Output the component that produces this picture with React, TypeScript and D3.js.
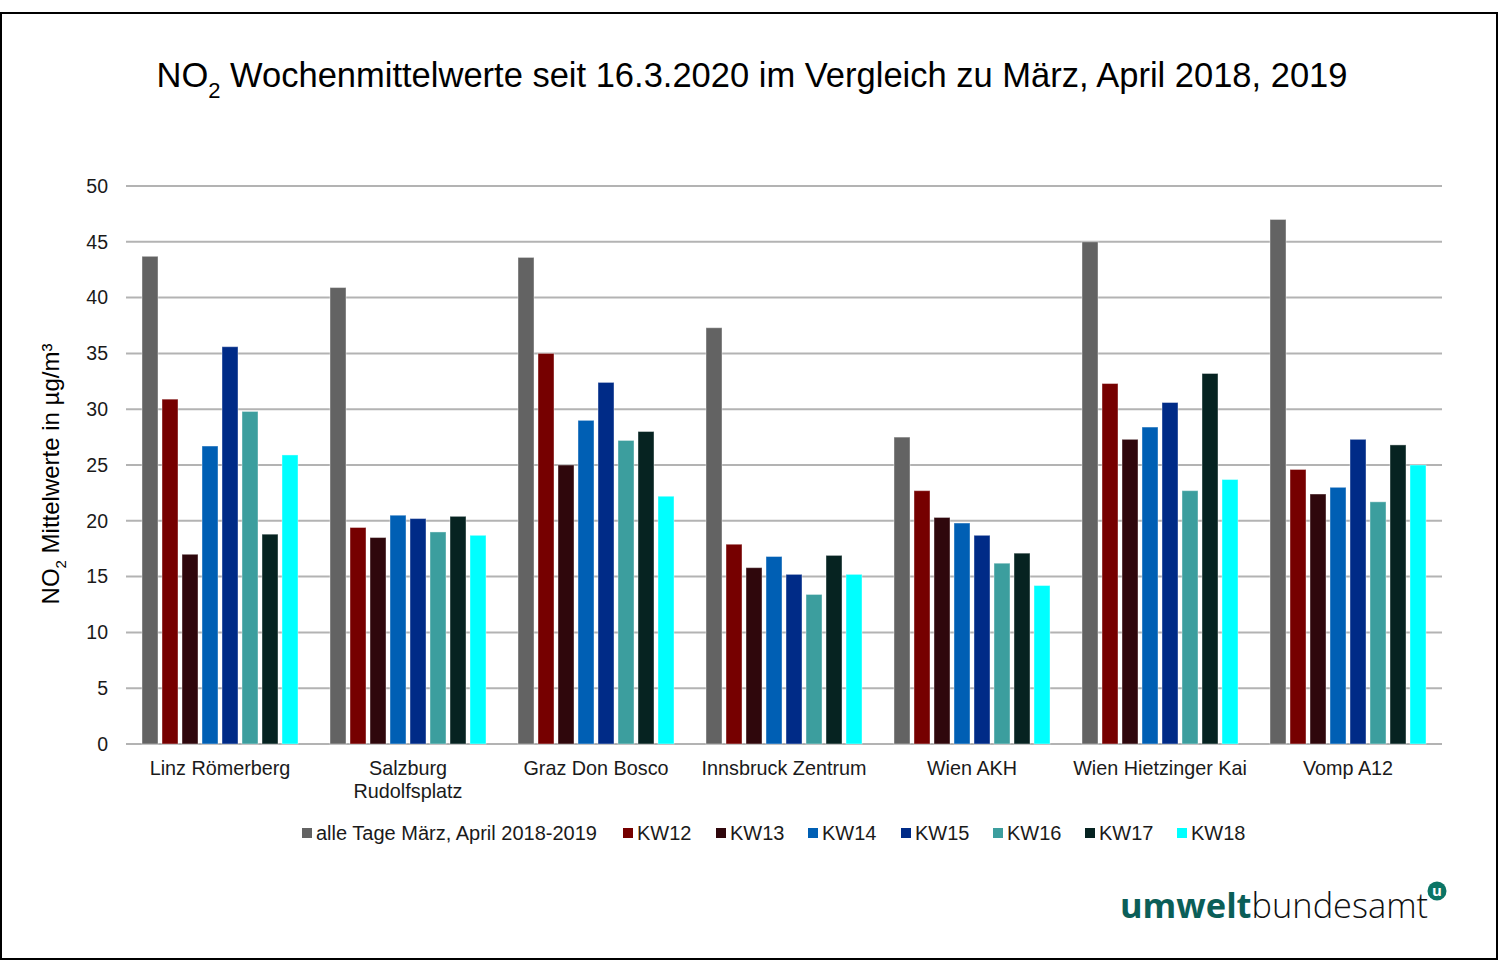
import React, { useEffect, useRef } from 'react';
import * as d3 from 'd3';

const stations = ['Linz Römerberg', 'Salzburg Rudolfsplatz', 'Graz Don Bosco', 'Innsbruck Zentrum', 'Wien AKH', 'Wien Hietzinger Kai', 'Vomp A12'];
const stationLines = [['Linz Römerberg'], ['Salzburg', 'Rudolfsplatz'], ['Graz Don Bosco'], ['Innsbruck Zentrum'], ['Wien AKH'], ['Wien Hietzinger Kai'], ['Vomp A12']];
const seriesNames = ['alle Tage März, April 2018-2019', 'KW12', 'KW13', 'KW14', 'KW15', 'KW16', 'KW17', 'KW18'];
const seriesColors = ['#636363', '#760000', '#2f070c', '#005fb4', '#002b87', '#3c9e9e', '#062321', '#00ffff'];

const allDays = [43.7, 40.9, 43.6, 37.3, 27.5, 45.0, 47.0];
const kw12 = [30.9, 19.4, 35.0, 17.9, 22.7, 32.3, 24.6];
const kw13 = [17.0, 18.5, 25.0, 15.8, 20.3, 27.3, 22.4];
const kw14 = [26.7, 20.5, 29.0, 16.8, 19.8, 28.4, 23.0];
const kw15 = [35.6, 20.2, 32.4, 15.2, 18.7, 30.6, 27.3];
const kw16 = [29.8, 19.0, 27.2, 13.4, 16.2, 22.7, 21.7];
const kw17 = [18.8, 20.4, 28.0, 16.9, 17.1, 33.2, 26.8];
const kw18 = [25.9, 18.7, 22.2, 15.2, 14.2, 23.7, 25.0];
const yTicks = [0, 5, 10, 15, 20, 25, 30, 35, 40, 45, 50];

const seriesValues = [allDays, kw12, kw13, kw14, kw15, kw16, kw17, kw18];

const W = 1500;
const H = 962;
const font = 'Arial, "Liberation Sans", sans-serif';

export default function App() {
  const ref = useRef<SVGSVGElement>(null);

  useEffect(() => {
    const svg = d3.select(ref.current);
    svg.selectAll('*').remove();

    const margin = { top: 186, left: 126, right: 58, bottom: 218 };
    const plotW = W - margin.left - margin.right;
    const plotH = H - margin.top - margin.bottom;

    // frame
    svg.append('rect')
      .attr('x', 1).attr('y', 13).attr('width', 1496).attr('height', 946)
      .attr('fill', '#fff').attr('stroke', '#000').attr('stroke-width', 2);

    // title
    const title = svg.append('text')
      .attr('x', 752).attr('y', 87)
      .attr('text-anchor', 'middle')
      .attr('font-family', font).attr('font-size', 34.5).attr('fill', '#000');
    title.append('tspan').text('NO');
    title.append('tspan').attr('font-size', 22).attr('dy', 11).text('2');
    title.append('tspan').attr('dy', -11).text(' Wochenmittelwerte seit 16.3.2020 im Vergleich zu März, April 2018, 2019');

    const g = svg.append('g').attr('transform', `translate(${margin.left},${margin.top})`);

    const x0 = d3.scaleBand<string>().domain(stations).range([0, plotW]).padding(0);
    const x1 = d3.scaleBand<string>().domain(seriesNames)
      .range([16, x0.bandwidth() - 16]).paddingInner(0.2).paddingOuter(0);
    const y = d3.scaleLinear().domain([0, 50]).range([plotH, 0]);

    // gridlines
    g.selectAll('line.grid').data(yTicks).enter().append('line')
      .attr('class', 'grid')
      .attr('x1', 0).attr('x2', plotW)
      .attr('y1', d => y(d)).attr('y2', d => y(d))
      .attr('stroke', '#b3b3b3').attr('stroke-width', 2);

    // y axis labels
    g.selectAll('text.ytick').data(yTicks).enter().append('text')
      .attr('class', 'ytick')
      .attr('x', -18).attr('y', d => y(d)).attr('dy', '0.35em')
      .attr('text-anchor', 'end')
      .attr('font-family', font).attr('font-size', 19.5).attr('fill', '#1a1a1a')
      .text(d => d);

    // bars
    stations.forEach((st, si) => {
      const grp = g.append('g').attr('transform', `translate(${x0(st)},0)`);
      seriesNames.forEach((sn, k) => {
        const v = seriesValues[k][si];
        grp.append('rect')
          .attr('x', x1(sn)!)
          .attr('y', y(v))
          .attr('width', x1.bandwidth())
          .attr('height', y(0) - y(v))
          .attr('fill', seriesColors[k])
          .attr('stroke', '#ffffff').attr('stroke-opacity', 0.4).attr('stroke-width', 1);
      });
    });

    // category labels
    stations.forEach((st, si) => {
      const t = g.append('text')
        .attr('x', x0(st)! + x0.bandwidth() / 2)
        .attr('y', plotH + 31)
        .attr('text-anchor', 'middle')
        .attr('font-family', font).attr('font-size', 19.8).attr('fill', '#1a1a1a');
      stationLines[si].forEach((line, li) => {
        t.append('tspan').attr('x', x0(st)! + x0.bandwidth() / 2).attr('dy', li === 0 ? 0 : 23).text(line);
      });
    });

    // y axis title
    const yt = svg.append('text')
      .attr('transform', `translate(59,${margin.top + plotH / 2 + 9}) rotate(-90)`)
      .attr('text-anchor', 'middle')
      .attr('font-family', font).attr('font-size', 24).attr('fill', '#000');
    yt.append('tspan').text('NO');
    yt.append('tspan').attr('font-size', 15).attr('dy', 7).text('2');
    yt.append('tspan').attr('dy', -7).text(' Mittelwerte in µg/m³');

    // legend
    const legend = svg.append('g').attr('transform', 'translate(0,833)');
    const legendX = [302, 623, 716, 808, 901, 993, 1085, 1177];
    seriesNames.forEach((sn, k) => {
      legend.append('rect')
        .attr('x', legendX[k]).attr('y', -5).attr('width', 10).attr('height', 10)
        .attr('fill', seriesColors[k]);
      legend.append('text')
        .attr('x', legendX[k] + 14).attr('y', 0).attr('dy', '0.36em')
        .attr('font-family', font).attr('font-size', 20).attr('fill', '#1a1a1a')
        .text(sn);
    });

    // logo
    const logo = svg.append('text')
      .attr('x', 1120).attr('y', 918)
      .attr('font-family', '"Open Sans", "Noto Sans", sans-serif').attr('font-size', 34.4);
    logo.append('tspan').attr('font-weight', 'bold').attr('fill', '#0b5e58').text('umwelt');
    logo.append('tspan').attr('fill', '#111').attr('font-weight', 300).text('bundesamt');
    svg.append('circle').attr('cx', 1437).attr('cy', 891).attr('r', 9.5).attr('fill', '#0b7566');
    svg.append('text').attr('x', 1437).attr('y', 891).attr('dy', '0.32em')
      .attr('text-anchor', 'middle').attr('font-family', '"Open Sans", sans-serif')
      .attr('font-weight', 'bold').attr('font-size', 15).attr('fill', '#fff').text('u');
  }, []);

  return (
    <div style={{ position: 'absolute', left: 0, top: 0, width: W, height: H }}>
      <svg ref={ref} width={W} height={H} />
    </div>
  );
}
